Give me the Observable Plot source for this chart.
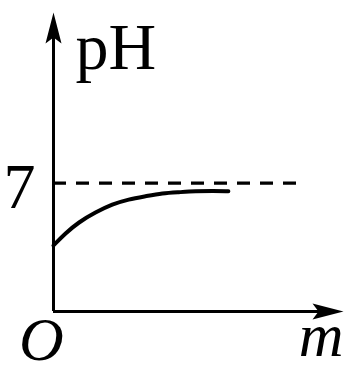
<!DOCTYPE html>
<html><head><meta charset="utf-8">
<script src="https://cdn.jsdelivr.net/npm/d3@7"></script>
<script src="https://cdn.jsdelivr.net/npm/@observablehq/plot@0.6"></script>
<style>html,body{margin:0;padding:0;background:#fff}</style>
</head><body><div id="chart"></div>
<script>
// Curve: pH vs m
const curveM  = [0, 0.41, 0.86, 1.45, 2.03, 2.59, 3.17, 3.76, 4.31, 4.9, 5.5, 6.03];
const curvePH = [3.6, 4.26, 4.86, 5.41, 5.85, 6.12, 6.28, 6.45, 6.5, 6.56, 6.57, 6.56];
// Reference (neutral) level
const neutralPH = [7];
const neutralEndM = 8.6;
const yTicks = [7];
// Axis extents
const xMax = 10;
const yMax = 16.3;
const yLabel = "pH";
const xLabel = "m";
const originLabel = "O";

const curve = curveM.map((m, i) => ({m, pH: curvePH[i]}));
const font = "Liberation Serif, Times New Roman, serif";

const arrowHead = {
  draw(ctx) {
    ctx.moveTo(0, 0);
    ctx.lineTo(8, 31);
    ctx.lineTo(0, 25);
    ctx.lineTo(-8, 31);
    ctx.closePath();
  }
};

const chart = Plot.plot({
  width: 348,
  height: 371,
  marginLeft: 53,
  marginRight: 5,
  marginTop: 12,
  marginBottom: 60,
  style: {background: "#fff", fontFamily: font},
  x: {domain: [0, xMax], axis: null},
  y: {domain: [0, yMax], axis: null},
  marks: [
    Plot.ruleY(neutralPH, {x1: 0, x2: neutralEndM, stroke: "black", strokeWidth: 3.2, strokeDasharray: "13,10"}),
    Plot.ruleY([0], {x1: 0, x2: xMax - 0.6, stroke: "black", strokeWidth: 3}),
    Plot.ruleX([0], {y1: 0, y2: yMax - 1, stroke: "black", strokeWidth: 3}),
    Plot.dot([{x: 0, y: yMax}], {x: "x", y: "y", symbol: arrowHead, fill: "black", stroke: null}),
    Plot.dot([{x: xMax, y: 0}], {x: "x", y: "y", symbol: arrowHead, fill: "black", stroke: null, rotate: 90}),
    Plot.line(curve, {x: "m", y: "pH", curve: "basis", stroke: "black", strokeWidth: 4}),
    Plot.axisY({ticks: yTicks, tickSize: 0, tickPadding: 18, fontSize: 64, fontFamily: font, label: null, dy: 4, fill: "black"}),
    Plot.text([yLabel], {x: 0, y: yMax, text: d => d, textAnchor: "start", lineAnchor: "bottom", dx: 22, dy: 56, fontSize: 66, fontFamily: font, fill: "black"}),
    Plot.text([xLabel], {x: xMax, y: 0, text: d => d, textAnchor: "end", lineAnchor: "bottom", dx: 0, dy: 44, fontSize: 62, fontStyle: "italic", fontFamily: font, fill: "black"}),
    Plot.text([originLabel], {x: 0, y: 0, text: d => d, textAnchor: "middle", lineAnchor: "bottom", dx: -12, dy: 48, fontSize: 62, fontStyle: "italic", fontFamily: font, fill: "black"})
  ]
});
document.getElementById("chart").appendChild(chart);
</script>
</body></html>
